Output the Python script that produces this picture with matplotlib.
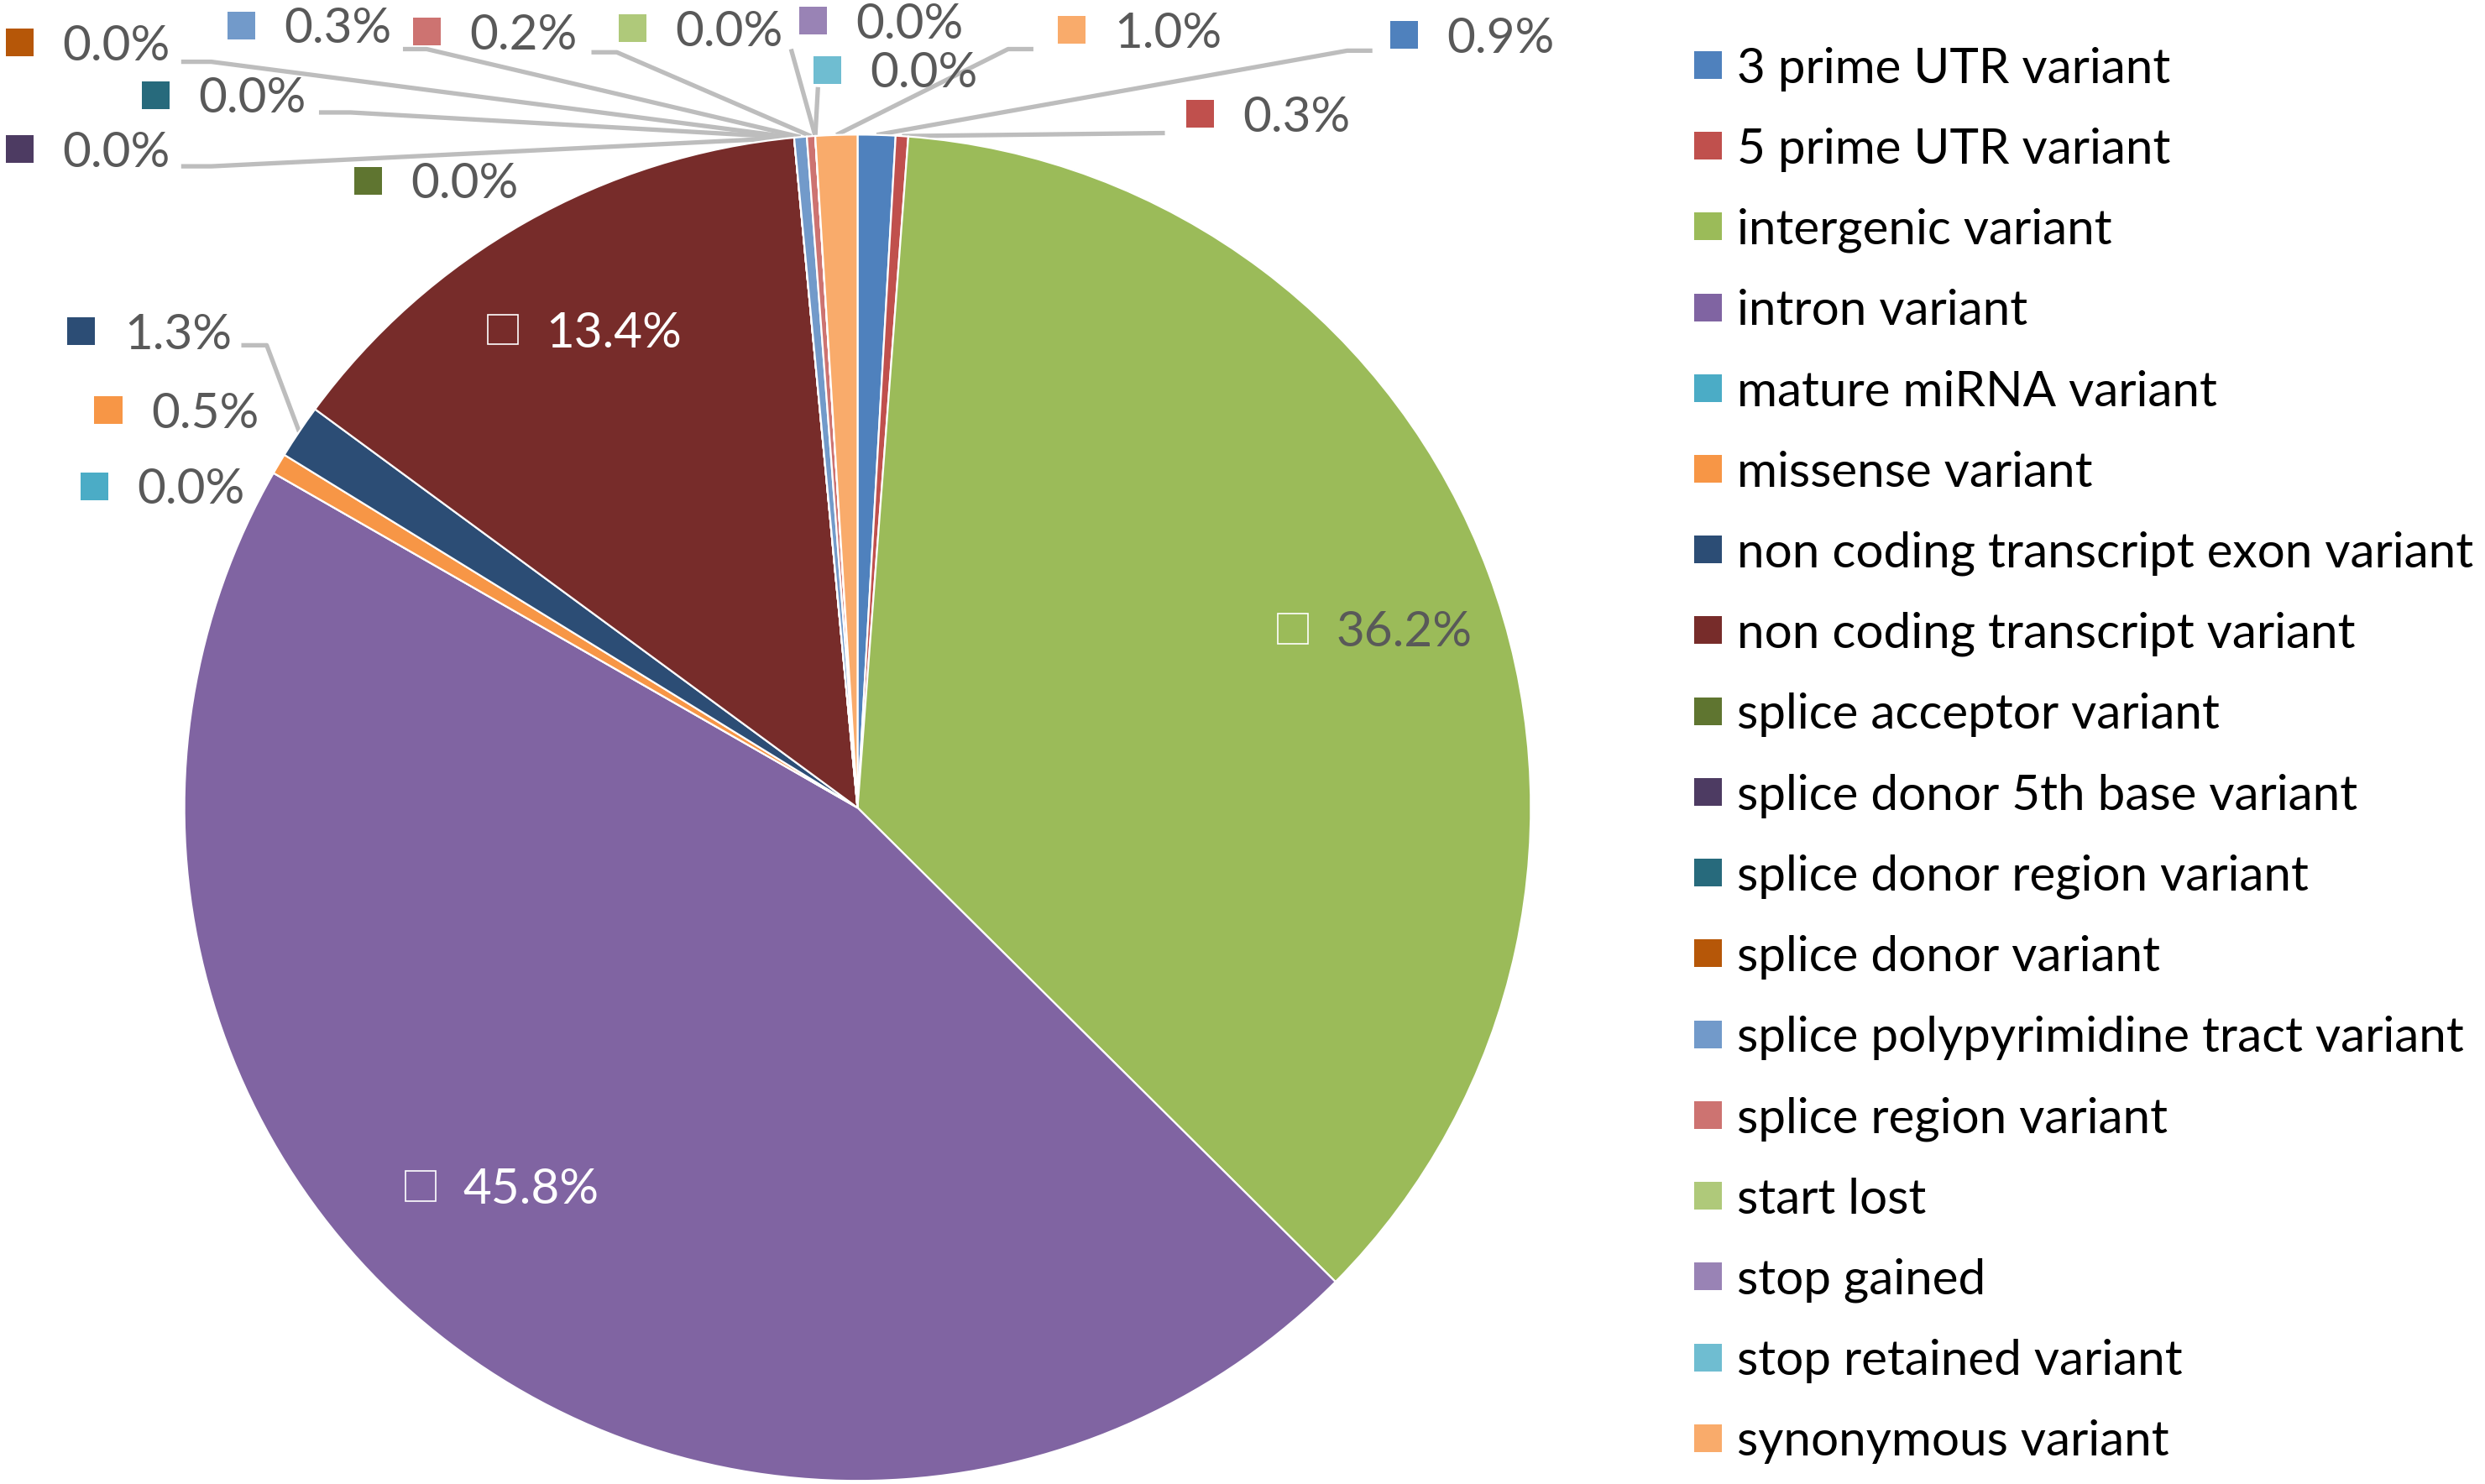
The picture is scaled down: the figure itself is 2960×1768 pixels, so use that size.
import numpy as np
import matplotlib
matplotlib.use('Agg')
from matplotlib import pyplot as plt
from matplotlib.patches import Rectangle

plt.rcParams['font.family'] = ['Lato', 'DejaVu Sans']

categories = ['3 prime UTR variant', '5 prime UTR variant', 'intergenic variant',
              'intron variant', 'mature miRNA variant', 'missense variant',
              'non coding transcript exon variant', 'non coding transcript variant',
              'splice acceptor variant', 'splice donor 5th base variant',
              'splice donor region variant', 'splice donor variant',
              'splice polypyrimidine tract variant', 'splice region variant',
              'start lost', 'stop gained', 'stop retained variant', 'synonymous variant']
values = [0.9, 0.3, 36.2, 45.8, 0.0, 0.5, 1.3, 13.4, 0.0, 0.0,
          0.0, 0.0, 0.3, 0.2, 0.0, 0.0, 0.0, 1.0]
colors = ['#4F81BD', '#C0504D', '#9BBB59', '#8064A2', '#4BACC6', '#F79646',
          '#2C4D75', '#772C2A', '#5F7530', '#4D3B62', '#276A7C', '#B65708',
          '#729ACA', '#CD7371', '#AFC97A', '#9983B5', '#6FBDD1', '#F9AB6B']

# canvas in px of a 1568x937 layout, y measured from the top
W, H = 1568, 937
CX, CY, R = 541, 510, 425

def P(x, y):
    return x, H - y

# label key square centres
label_xy = [(886, 22), (757, 72), (816, 397), (265, 749), (59, 307), (68, 259),
            (51, 209), (317, 208), (232, 114), (12, 94), (98, 60), (12, 27),
            (152, 16), (269, 20), (399, 18), (513, 13), (522, 44), (676, 19)]
inside = {2: '#595959', 3: 'white', 7: 'white'}

# leader line knees / ends
leaders = {11: [(133, 39), (114, 39)], 10: [(221, 71), (201, 71)],
           9: [(133, 105), (114, 105)], 12: [(269, 31), (254, 31)],
           13: [(389, 33), (373, 33)], 14: [(499, 31)], 16: [(516, 55)],
           17: [(636, 31), (652, 31)], 0: [(850, 32), (866, 32)],
           1: [(735, 84)], 6: [(168, 218), (152, 218)]}

fig = plt.figure(figsize=(14.8, 8.84), dpi=200)
ax = fig.add_axes([0, 0, 1, 1])

wedges, _ = ax.pie(values, colors=colors, startangle=90, counterclock=False,
                   center=P(CX, CY), radius=R,
                   wedgeprops=dict(edgecolor='white', linewidth=0.8))
for w in wedges:
    w.set_zorder(3)

ax.set_xlim(0, W)
ax.set_ylim(0, H)
ax.set_aspect('equal')
ax.axis('off')

sq = 17.5
dy = 2.5  # text sits a bit lower than the key square centre
for i, w in enumerate(wedges):
    x, y = P(*label_xy[i])
    txt = '%.1f%%' % values[i]
    if i in inside:
        ax.add_patch(Rectangle((x - 9.5, y - 9.5), 19, 19, facecolor='none',
                               edgecolor='white', linewidth=0.6, zorder=5))
        ax.text(x + 27, y - dy, txt, color=inside[i], fontsize=21, va='center', zorder=6)
    else:
        ax.add_patch(Rectangle((x - sq / 2, y - sq / 2), sq, sq,
                               facecolor=colors[i], edgecolor='none', zorder=5))
        ax.text(x + 27, y - dy, txt, color='#595959', fontsize=21, va='center', zorder=6)
    if i in leaders:
        mid = np.deg2rad((w.theta1 + w.theta2) / 2)
        sx = CX + R * np.cos(mid)
        sy = H - CY + R * np.sin(mid)
        pts = [P(*p) for p in leaders[i]]
        xs = [sx] + [p[0] for p in pts]
        ys = [sy] + [p[1] for p in pts]
        ax.plot(xs, ys, color='#BDBDBD', linewidth=1.9, zorder=2,
                solid_capstyle='butt')

# legend
for i, name in enumerate(categories):
    x, y = P(1078, 41 + 51 * i)
    ax.add_patch(Rectangle((x - sq / 2, y - sq / 2), sq, sq,
                           facecolor=colors[i], edgecolor='none'))
    ax.text(1096, y - dy, name, color='black', fontsize=21, va='center')

fig.savefig('out.png', dpi=200)
